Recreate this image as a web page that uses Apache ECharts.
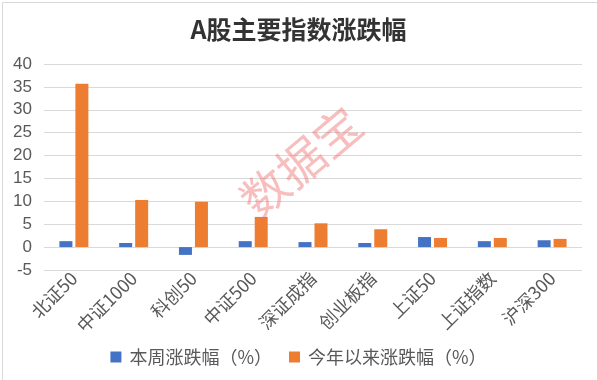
<!DOCTYPE html>
<html><head><meta charset="utf-8">
<script src="https://cdn.jsdelivr.net/npm/echarts@6/dist/echarts.min.js"></script>
<style>html,body{margin:0;padding:0;background:#fff}#c{width:597px;height:380px}</style>
</head><body><div id="c"></div>
<script>
const categories = ['北证50','中证1000','科创50','中证500','深证成指','创业板指','上证50','上证指数','沪深300'];
const weekly = [1.3, 0.9, -1.7, 1.3, 1.1, 0.9, 2.2, 1.3, 1.5];
const ytd = [35.7, 10.3, 9.9, 6.6, 5.2, 3.9, 2.0, 2.0, 1.8];
const seriesNames = ['本周涨跌幅（%）','今年以来涨跌幅（%）'];

const chart = echarts.init(document.getElementById('c'));
const cjk = '"Noto Sans CJK SC", "Noto Sans", sans-serif';
chart.setOption({
  animation: false,
  title: { text: 'A股主要指数涨跌幅', left: 'center', top: 12,
    textStyle: { fontFamily: cjk, fontSize: 25, fontWeight: 'bold', color: '#333333' } },
  grid: { left: 44, right: 15, top: 64, bottom: 110 },
  legend: { top: 343, left: 'center', itemWidth: 11, itemHeight: 11, itemGap: 17, icon: 'rect',
    textStyle: { fontFamily: cjk, fontSize: 18, color: '#595959', padding: [0, 0, 0, 3] } },
  xAxis: { type: 'category', data: categories,
    axisLine: { show: false, onZero: false }, axisTick: { show: false },
    axisLabel: { rotate: 45, interval: 0, margin: 5, fontFamily: cjk, fontSize: 18, color: '#595959' } },
  yAxis: { type: 'value', min: -5, max: 40, interval: 5,
    axisLine: { show: false }, axisTick: { show: false },
    splitLine: { lineStyle: { color: '#d9d9d9', width: 1 } },
    axisLabel: { fontFamily: '"Liberation Sans", Arial, sans-serif', fontSize: 17, color: '#595959', margin: 12 } },
  series: [
    { name: seriesNames[0], type: 'bar', data: weekly, barWidth: 13, barGap: '23%', itemStyle: { color: '#4472C4' } },
    { name: seriesNames[1], type: 'bar', data: ytd, barWidth: 13, itemStyle: { color: '#ED7D31' } }
  ],
  graphic: [
    { type: 'rect', left: 0, top: 0, shape: { width: 596, height: 379 },
      style: { fill: 'none', stroke: '#d9d9d9', lineWidth: 1 }, silent: true },
    { type: 'text', x: 301, y: 162, rotation: 0.7, z: 100,
      style: { text: '数据宝', fontFamily: cjk, fontSize: 47, fontWeight: 'normal', fill: 'rgba(240,110,110,0.45)', align: 'center', verticalAlign: 'middle' } }
  ]
});
</script></body></html>
